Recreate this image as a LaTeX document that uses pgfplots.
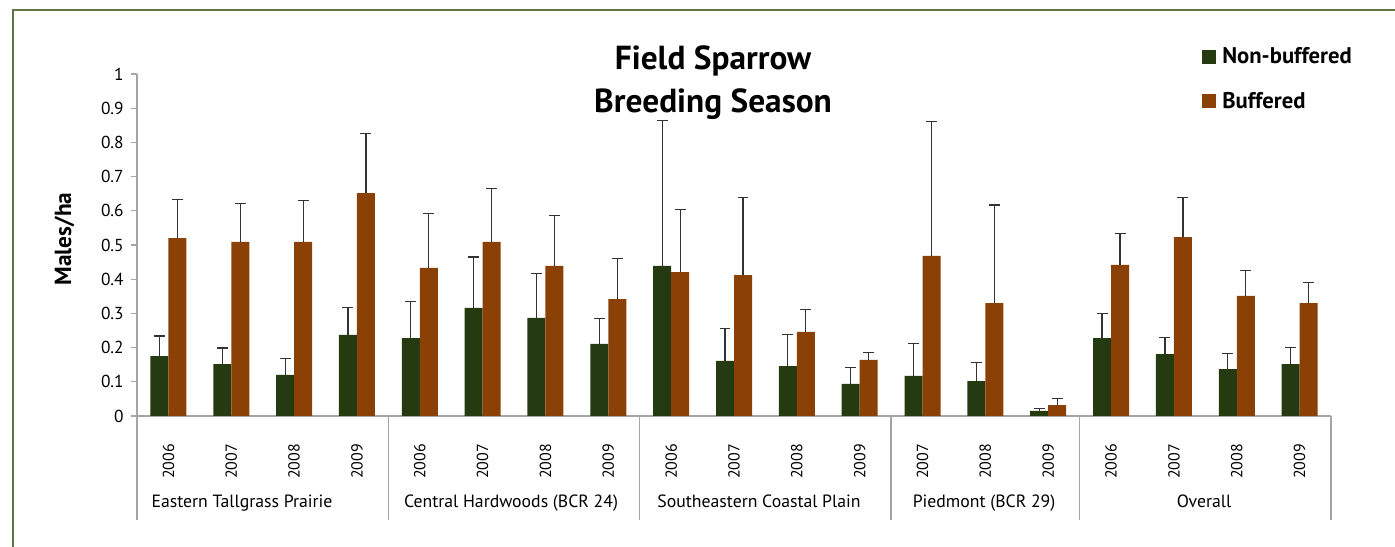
\documentclass[border=0pt]{standalone}
\usepackage{pgfplots}
\pgfplotsset{compat=1.18}
\usepackage{pgfplotstable}
\usepackage{fontspec}
\setmainfont{PT Sans}

\definecolor{nbgreen}{RGB}{38,58,18}
\definecolor{bbrown}{RGB}{139,65,5}
\definecolor{framegreen}{RGB}{95,115,70}
\definecolor{axgray}{RGB}{165,165,165}

% Field Sparrow density (males/ha) with upper standard error
% x: position along the axis, nb/b: non-buffered and buffered means
\pgfplotstableread{
x  nb    nbe   b     be
0  0.175 0.059 0.520 0.114
1  0.152 0.047 0.509 0.112
2  0.120 0.049 0.509 0.121
3  0.237 0.080 0.652 0.174
4  0.228 0.106 0.433 0.158
5  0.316 0.149 0.509 0.156
6  0.287 0.129 0.439 0.147
7  0.211 0.075 0.342 0.118
8  0.439 0.426 0.421 0.183
9  0.161 0.094 0.412 0.226
10 0.146 0.093 0.246 0.066
11 0.094 0.048 0.164 0.022
12 0.117 0.095 0.468 0.393
13 0.102 0.054 0.330 0.287
14 0.015 0.006 0.032 0.020
15 0.228 0.071 0.442 0.092
16 0.181 0.049 0.523 0.115
17 0.137 0.045 0.351 0.075
18 0.152 0.048 0.330 0.061
}\sparrow

\begin{document}
\begin{tikzpicture}
\begin{axis}[
  at={(102.75pt,97.5pt)}, anchor=south west,
  scale only axis, width=895.5pt, height=256.5pt,
  xmin=-0.5, xmax=18.5, ymin=0, ymax=1,
  clip=false,
  axis lines*=left,
  axis line style={axgray, line width=1pt},
  ybar,
  ytick={0,0.1,...,1.0},
  yticklabels={0,0.1,0.2,0.3,0.4,0.5,0.6,0.7,0.8,0.9,1},
  ytick style={axgray, line width=0.8pt},
  tick align=outside, major tick length=4.5pt,
  y tick label style={font=\fontsize{13}{15}\selectfont, xshift=-2pt},
  xtick={0,...,18},
  xticklabels={2006,2007,2008,2009,2006,2007,2008,2009,2006,2007,2008,2009,2007,2008,2009,2006,2007,2008,2009},
  x tick style={draw=none},
  x tick label style={font=\fontsize{12}{14}\selectfont, rotate=90, anchor=east},
  xticklabel shift=13pt,
  /pgf/number format/assume math mode=true,
  legend style={at={(axis description cs:0.892,1.086)}, anchor=north west,
    draw=none, fill=none, font=\fontsize{17}{20}\bfseries\selectfont,
    row sep=16pt, column sep=2.5pt, inner sep=0pt},
  legend cell align=left,
  legend image code/.code={\fill[#1] (0pt,-5.25pt) rectangle (10.5pt,5.25pt);},
]
\addplot[bar width=13.5pt, bar shift=-6.75pt, fill=nbgreen, draw=none,
  error bars/.cd, y dir=plus, y explicit,
  error bar style={line width=0.9pt, black!80},
  error mark options={rotate=90, mark size=4.1pt, line width=0.9pt, black!80}]
  table[x=x, y=nb, y error=nbe]{\sparrow};
\addlegendentry{Non-buffered}
\addplot[bar width=13.5pt, bar shift=6.75pt, fill=bbrown, draw=none,
  error bars/.cd, y dir=plus, y explicit,
  error bar style={line width=0.9pt, black!80},
  error mark options={rotate=90, mark size=4.1pt, line width=0.9pt, black!80}]
  table[x=x, y=b, y error=be]{\sparrow};
\addlegendentry{Buffered}

% region separators below the axis
\draw[axgray, line width=1pt] (axis cs:-0.5,0) -- (axis cs:-0.5,-0.304);
\draw[axgray, line width=1pt] (axis cs:3.5,0) -- (axis cs:3.5,-0.304);
\draw[axgray, line width=1pt] (axis cs:7.5,0) -- (axis cs:7.5,-0.304);
\draw[axgray, line width=1pt] (axis cs:11.5,0) -- (axis cs:11.5,-0.304);
\draw[axgray, line width=1pt] (axis cs:14.5,0) -- (axis cs:14.5,-0.304);
\draw[axgray, line width=1pt] (axis cs:18.5,0) -- (axis cs:18.5,-0.304);
% region names
\node[font=\fontsize{13.3}{15}\selectfont, anchor=base] at (axis cs:1.171,-0.269) {Eastern Tallgrass Prairie};
\node[font=\fontsize{13.3}{15}\selectfont, anchor=base] at (axis cs:5.452,-0.269) {Central Hardwoods (BCR 24)};
\node[font=\fontsize{13.3}{15}\selectfont, anchor=base] at (axis cs:9.398,-0.269) {Southeastern Coastal Plain};
\node[font=\fontsize{13.3}{15}\selectfont, anchor=base] at (axis cs:12.979,-0.269) {Piedmont (BCR 29)};
\node[font=\fontsize{13.3}{15}\selectfont, anchor=base] at (axis cs:16.48,-0.269) {Overall};
\end{axis}

\begin{scope}[x=0.75pt, y=0.75pt]
  % axis title
  \node[rotate=90, font=\fontsize{17.5}{20}\bfseries\selectfont] at (64.5,307) {Males/ha};
  % chart title
  \node[anchor=base, font=\fontsize{25}{30}\bfseries\selectfont] at (713,476) {Field Sparrow};
  \node[anchor=base, font=\fontsize{25}{30}\bfseries\selectfont] at (713,433) {Breeding Season};
  % outer frame
  \draw[framegreen, line width=1.5pt] (12.5,535.5) rectangle (1420,-20);
  \pgfresetboundingbox
  \useasboundingbox (0,0) rectangle (1395,546);
\end{scope}
\end{tikzpicture}
\end{document}
